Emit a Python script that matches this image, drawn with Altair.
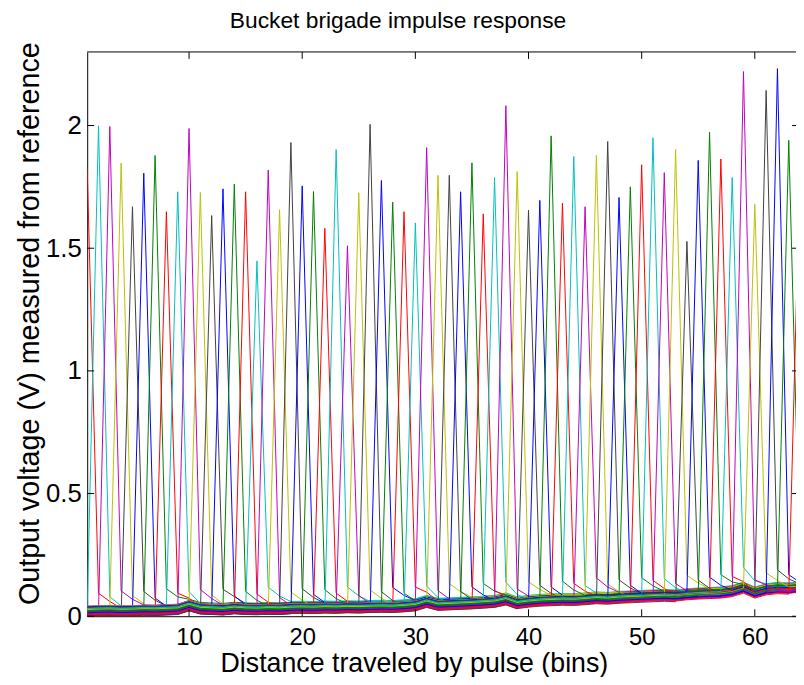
import altair as alt
import pandas as pd

# ---- data ----
XS = list(range(1, 65))                      # bin index
# peak value of the pulse for the series whose pulse sits at bin k (k = 1..64)
PEAK = [1.824, 1.999, 1.996, 1.847, 1.669, 1.806, 1.878, 1.649, 1.730, 1.988,
        1.727, 1.633, 1.742, 1.761, 1.730, 1.448, 1.819, 1.657, 1.931, 1.754,
        1.731, 1.581, 1.902, 1.510, 1.726, 2.005, 1.776, 1.688, 1.649, 1.603,
        1.910, 1.797, 1.797, 1.730, 1.848, 1.640, 1.788, 2.081, 1.812, 1.655,
        1.695, 1.958, 1.684, 1.874, 1.669, 1.878, 1.935, 1.707, 1.750, 1.840,
        1.950, 1.808, 1.902, 1.528, 1.858, 1.973, 1.864, 1.788, 2.220, 1.679,
        2.143, 2.232, 1.940, 1.860]
# common floor level of the bundle at each bin
BASE = [0.020, 0.022, 0.023, 0.021, 0.022, 0.024, 0.023, 0.025, 0.027, 0.042,
        0.029, 0.027, 0.025, 0.030, 0.027, 0.026, 0.028, 0.027, 0.030, 0.031,
        0.030, 0.032, 0.031, 0.033, 0.032, 0.034, 0.035, 0.034, 0.037, 0.041,
        0.055, 0.043, 0.045, 0.047, 0.049, 0.052, 0.055, 0.065, 0.049, 0.055,
        0.059, 0.061, 0.063, 0.062, 0.065, 0.069, 0.067, 0.071, 0.073, 0.075,
        0.077, 0.079, 0.077, 0.082, 0.085, 0.087, 0.089, 0.095, 0.109, 0.089,
        0.102, 0.107, 0.105, 0.109]
# per-series offset from the floor before and after its pulse
PRE_OFF = [-0.014, 0.006, -0.004, 0.018, -0.018, 0.002, 0.012, -0.009, 0.020, -0.002,
           0.008, -0.016, 0.004, 0.015, -0.011, 0.000, 0.019, -0.006, 0.010, -0.020,
           0.003, 0.014, -0.012, 0.007, -0.003, 0.016, -0.017, 0.005, 0.011, -0.008,
           0.021, -0.001, -0.015, 0.009, 0.002, -0.010, 0.017, -0.005, 0.012, -0.019,
           0.004, 0.015, -0.013, 0.006, -0.002, 0.020, -0.011, 0.001, 0.010, -0.016,
           0.013, -0.004, 0.007, -0.018, 0.018, 0.000, -0.009, 0.011, -0.012, 0.005,
           0.016, -0.006, 0.003, -0.015]
POST_OFF = [0.012, -0.004, 0.022, 0.002, 0.017, -0.009, 0.027, 0.007, -0.002, 0.020,
            0.000, 0.025, -0.007, 0.014, 0.004, 0.030, -0.011, 0.009, 0.021, -0.001,
            0.016, 0.003, 0.026, -0.008, 0.013, 0.005, 0.023, -0.003, 0.018, 0.008,
            0.001, 0.028, -0.006, 0.010, 0.022, -0.010, 0.014, 0.002, 0.025, 0.007,
            -0.002, 0.020, 0.012, 0.000, 0.027, 0.004, 0.017, -0.007, 0.022, 0.009,
            0.014, -0.004, 0.025, 0.002, 0.012, 0.020, 0.007, 0.030, 0.000, 0.014,
            0.022, 0.004, 0.012, 0.017]
TAIL = [0.06, 0.025]          # extra level one and two bins after the pulse
CYCLE = ["#0000FF", "#008000", "#FF0000", "#00BFBF", "#BF00BF", "#BFBF00", "#404040"]
XTICKS = [10, 20, 30, 40, 50, 60]
YTICKS = [0, 0.5, 1, 1.5, 2]

W, H = 716, 570
XTITLE = "Distance traveled by pulse (bins)"
YTITLE = "Output voltage (V) measured from reference"

rows = []
names, colors = [], []
for k in XS:
    name = f"s{k:02d}"
    names.append(name)
    colors.append(CYCLE[(k + 1) % 7])
    for i, x in enumerate(XS):
        if x == k:
            v = PEAK[k - 1]
        elif x < k:
            v = BASE[i] + PRE_OFF[k - 1]
        else:
            v = BASE[i] + POST_OFF[k - 1]
            if x - k <= len(TAIL):
                v += TAIL[x - k - 1]
        rows.append({"x": x, "v": v, "s": name})
df = pd.DataFrame(rows)

FONT = "Liberation Sans"
xscale = alt.Scale(domain=[1, 63.64], nice=False, zero=False)
yscale = alt.Scale(domain=[0, 2.3], nice=False)
xaxis = alt.Axis(values=XTICKS, orient="bottom", labelPadding=10, labelFontSize=24,
                 titleFontSize=27, titleBaseline="alphabetic", titleAlign="center",
                 titleX=330, titleY=56)
yaxis = alt.Axis(values=YTICKS, format="~g", labelPadding=6, labelFontSize=26,
                 titleFontSize=29, titleBaseline="middle", titleAlign="center",
                 titleX=-58, titleY=274, titleAngle=270)

lines = alt.Chart(df).mark_line(strokeWidth=1, clip=True).encode(
    x=alt.X("x:Q", scale=xscale, axis=xaxis, title=XTITLE),
    y=alt.Y("v:Q", scale=yscale, axis=yaxis, title=YTITLE),
    color=alt.Color("s:N", scale=alt.Scale(domain=names, range=colors), legend=None),
)

xt = pd.DataFrame({"x": XTICKS})
yt = pd.DataFrame({"v": YTICKS})
one = pd.DataFrame({"a": [0]})

def xenc():
    return alt.X("x:Q", scale=xscale, axis=xaxis, title=XTITLE)

def yenc():
    return alt.Y("v:Q", scale=yscale, axis=yaxis, title=YTITLE)

tick_bottom = alt.Chart(xt).mark_rule(color="black", strokeWidth=1).encode(
    x=xenc(), y=alt.value(H), y2=alt.value(H - 7))
tick_top = alt.Chart(xt).mark_rule(color="black", strokeWidth=1).encode(
    x=xenc(), y=alt.value(0), y2=alt.value(7))
tick_left = alt.Chart(yt).mark_rule(color="black", strokeWidth=1).encode(
    y=yenc(), x=alt.value(0), x2=alt.value(7))
tick_right = alt.Chart(yt).mark_rule(color="black", strokeWidth=1).encode(
    y=yenc(), x=alt.value(W - 4), x2=alt.value(W))
top_line = alt.Chart(one).mark_rule(color="black", strokeWidth=1).encode(
    x=alt.value(0), x2=alt.value(W), y=alt.value(0))

chart = alt.layer(lines, tick_bottom, tick_top, tick_left, tick_right, top_line).properties(
    width=W, height=H,
    padding={"left": 80, "top": 41, "right": 0, "bottom": 58},
    autosize=alt.AutoSizeParams(type="none"),
    title=alt.TitleParams("Bucket brigade impulse response", font=FONT, fontSize=23,
                          fontWeight="normal", color="black", anchor="middle",
                          frame="group", offset=9, dx=-44),
).configure_view(stroke=None).configure_axis(
    labelFont=FONT, titleFont=FONT, labelFontSize=26, titleFontSize=27,
    titleFontWeight="normal", labelColor="black", titleColor="black",
    domainColor="black", domainWidth=1, ticks=False, grid=False,
)

chart.save("out.html", embed_options={"renderer": "svg", "actions": False})
